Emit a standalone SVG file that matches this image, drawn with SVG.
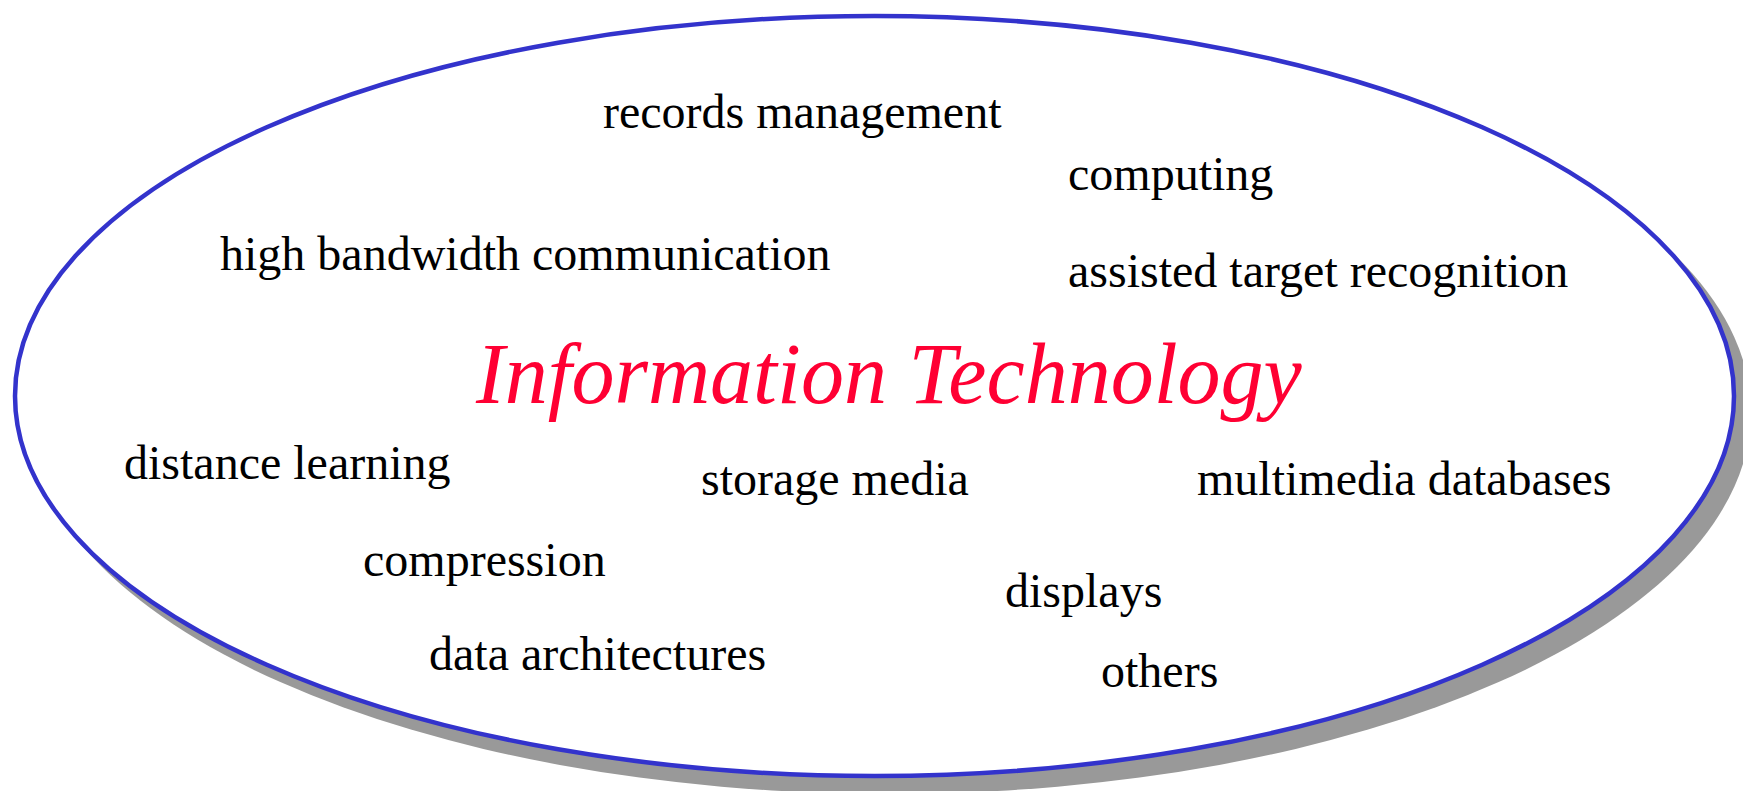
<svg xmlns="http://www.w3.org/2000/svg" width="1743" height="791" viewBox="0 0 1743 791">
<style>
.t{font-family:"Liberation Serif","Times New Roman",serif;font-size:48px;fill:#000}
.title{font-family:"Liberation Serif","Times New Roman",serif;font-style:italic;font-size:86px;fill:#ff0033}
</style>
<rect width="1743" height="791" fill="#fff"/>
<g id="it-ellipse">
<ellipse cx="889.5" cy="412" rx="861.5" ry="382" fill="#999999"/>
<ellipse cx="874.5" cy="396" rx="859.5" ry="380" fill="#fff" stroke="#3333cc" stroke-width="4.5"/>
<text class="title" x="476" y="403">Information Technology</text>
</g>
<g id="connectors"></g>
<g id="n-records"><text class="t" x="603" y="128">records management</text></g>
<g id="n-computing"><text class="t" x="1068" y="190">computing</text></g>
<g id="n-highbw"><text class="t" x="220" y="270">high bandwidth communication</text></g>
<g id="n-atr"><text class="t" x="1068" y="287">assisted target recognition</text></g>
<g id="n-distance"><text class="t" x="124" y="479">distance learning</text></g>
<g id="n-storage"><text class="t" x="701" y="495">storage media</text></g>
<g id="n-multimedia"><text class="t" x="1197" y="495">multimedia databases</text></g>
<g id="n-compression"><text class="t" x="363" y="576">compression</text></g>
<g id="n-displays"><text class="t" x="1005" y="607">displays</text></g>
<g id="n-dataarch"><text class="t" x="429" y="670">data architectures</text></g>
<g id="n-others"><text class="t" x="1101" y="687">others</text></g>
</svg>
